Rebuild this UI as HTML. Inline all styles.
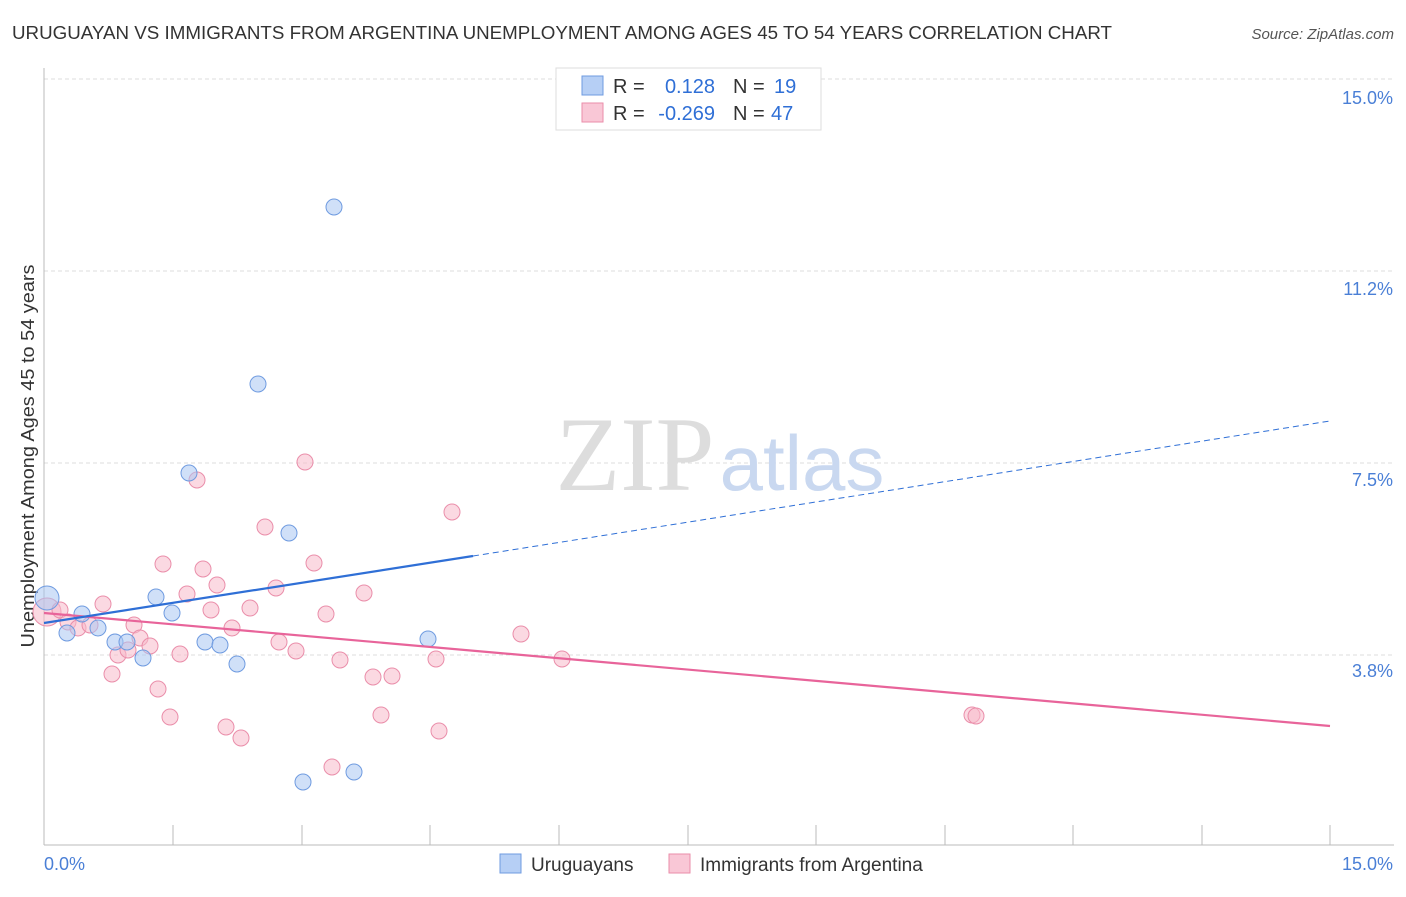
<!DOCTYPE html>
<html><head><meta charset="utf-8"><style>
body{margin:0;background:#fff;font-family:"Liberation Sans",sans-serif;}
</style></head><body>
<svg width="1406" height="892" xmlns="http://www.w3.org/2000/svg" font-family="Liberation Sans, sans-serif">
<text x="12" y="39" font-size="18" fill="#333" textLength="1100" lengthAdjust="spacingAndGlyphs">URUGUAYAN VS IMMIGRANTS FROM ARGENTINA UNEMPLOYMENT AMONG AGES 45 TO 54 YEARS CORRELATION CHART</text>
<text x="1394" y="39" font-size="15" fill="#555" text-anchor="end" font-style="italic">Source: ZipAtlas.com</text>
<g stroke="#ddd" stroke-dasharray="4,3">
<line x1="44" y1="79" x2="1394" y2="79"/><line x1="44" y1="271" x2="1394" y2="271"/>
<line x1="44" y1="463" x2="1394" y2="463"/><line x1="44" y1="655" x2="1394" y2="655"/>
</g>
<line x1="44" y1="68" x2="44" y2="845" stroke="#bbb"/>
<line x1="44" y1="845" x2="1394" y2="845" stroke="#bbb"/>
<g stroke="#bbb">
<line x1="173" y1="825" x2="173" y2="845"/><line x1="302" y1="825" x2="302" y2="845"/><line x1="430" y1="825" x2="430" y2="845"/><line x1="559" y1="825" x2="559" y2="845"/><line x1="688" y1="825" x2="688" y2="845"/><line x1="816" y1="825" x2="816" y2="845"/><line x1="945" y1="825" x2="945" y2="845"/><line x1="1073" y1="825" x2="1073" y2="845"/><line x1="1202" y1="825" x2="1202" y2="845"/><line x1="1330" y1="825" x2="1330" y2="845"/>
</g>
<g font-size="18" fill="#4a7fd6" text-anchor="end">
<text x="1393" y="104">15.0%</text><text x="1393" y="295">11.2%</text><text x="1393" y="486">7.5%</text><text x="1393" y="677">3.8%</text>
</g>
<text x="44" y="870" font-size="18" fill="#4a7fd6">0.0%</text>
<text x="1393" y="870" font-size="18" fill="#4a7fd6" text-anchor="end">15.0%</text>
<text transform="translate(34,456) rotate(-90)" font-size="18" fill="#333" text-anchor="middle" textLength="383" lengthAdjust="spacingAndGlyphs">Unemployment Among Ages 45 to 54 years</text>
<text x="635" y="490" font-size="106" fill="#ddd" font-family="Liberation Serif, serif" text-anchor="middle">ZIP</text>
<text x="802" y="490" font-size="78" fill="#c9d8f0" text-anchor="middle">atlas</text>
<g fill="#f7b9cb" fill-opacity="0.55" stroke="#ea8eaa" stroke-width="1">
<circle cx="47" cy="612" r="14"/>
<circle cx="60" cy="610" r="8"/><circle cx="68" cy="622" r="8"/><circle cx="78" cy="628" r="8"/><circle cx="90" cy="625" r="8"/><circle cx="103" cy="604" r="8"/><circle cx="112" cy="674" r="8"/><circle cx="118" cy="655" r="8"/><circle cx="128" cy="650" r="8"/><circle cx="134" cy="625" r="8"/><circle cx="140" cy="638" r="8"/><circle cx="150" cy="646" r="8"/><circle cx="158" cy="689" r="8"/><circle cx="163" cy="564" r="8"/><circle cx="170" cy="717" r="8"/><circle cx="180" cy="654" r="8"/><circle cx="187" cy="594" r="8"/><circle cx="197" cy="480" r="8"/><circle cx="203" cy="569" r="8"/><circle cx="211" cy="610" r="8"/><circle cx="217" cy="585" r="8"/><circle cx="226" cy="727" r="8"/><circle cx="232" cy="628" r="8"/><circle cx="241" cy="738" r="8"/><circle cx="250" cy="608" r="8"/><circle cx="265" cy="527" r="8"/><circle cx="276" cy="588" r="8"/><circle cx="279" cy="642" r="8"/><circle cx="296" cy="651" r="8"/><circle cx="305" cy="462" r="8"/><circle cx="314" cy="563" r="8"/><circle cx="326" cy="614" r="8"/><circle cx="332" cy="767" r="8"/><circle cx="340" cy="660" r="8"/><circle cx="364" cy="593" r="8"/><circle cx="373" cy="677" r="8"/><circle cx="381" cy="715" r="8"/><circle cx="392" cy="676" r="8"/><circle cx="436" cy="659" r="8"/><circle cx="439" cy="731" r="8"/><circle cx="452" cy="512" r="8"/><circle cx="521" cy="634" r="8"/><circle cx="562" cy="659" r="8"/><circle cx="972" cy="715" r="8"/><circle cx="976" cy="716" r="8"/>
</g>
<g fill="#a9c6f2" fill-opacity="0.55" stroke="#6f9be0" stroke-width="1">
<circle cx="47" cy="598" r="12"/>
<circle cx="67" cy="633" r="8"/><circle cx="82" cy="614" r="8"/><circle cx="98" cy="628" r="8"/><circle cx="115" cy="642" r="8"/><circle cx="127" cy="642" r="8"/><circle cx="143" cy="658" r="8"/><circle cx="156" cy="597" r="8"/><circle cx="172" cy="613" r="8"/><circle cx="189" cy="473" r="8"/><circle cx="205" cy="642" r="8"/><circle cx="220" cy="645" r="8"/><circle cx="237" cy="664" r="8"/><circle cx="258" cy="384" r="8"/><circle cx="289" cy="533" r="8"/><circle cx="303" cy="782" r="8"/><circle cx="334" cy="207" r="8"/><circle cx="354" cy="772" r="8"/><circle cx="428" cy="639" r="8"/>
</g>
<line x1="44" y1="613" x2="1330" y2="726" stroke="#e8649a" stroke-width="2.2"/>
<line x1="44" y1="623" x2="473" y2="556" stroke="#2f6fd6" stroke-width="2.2"/>
<line x1="473" y1="556" x2="1330" y2="421" stroke="#2f6fd6" stroke-width="1" stroke-dasharray="6,4"/>
<rect x="556" y="68" width="265" height="62" fill="#fff" stroke="#ddd"/>
<rect x="582" y="76" width="21" height="19" fill="#b6cff5" stroke="#6f9be0"/>
<rect x="582" y="103" width="21" height="19" fill="#f9c7d6" stroke="#ea8eaa"/>
<g font-size="20">
<text x="613" y="93" fill="#333">R =</text><text x="715" y="93" fill="#2f6fd6" text-anchor="end">0.128</text>
<text x="733" y="93" fill="#333">N =</text><text x="774" y="93" fill="#2f6fd6">19</text>
<text x="613" y="120" fill="#333">R =</text><text x="715" y="120" fill="#2f6fd6" text-anchor="end">-0.269</text>
<text x="733" y="120" fill="#333">N =</text><text x="771" y="120" fill="#2f6fd6">47</text>
</g>
<rect x="500" y="854" width="21" height="19" fill="#b6cff5" stroke="#6f9be0"/>
<text x="531" y="871" font-size="19" fill="#333">Uruguayans</text>
<rect x="669" y="854" width="21" height="19" fill="#f9c7d6" stroke="#ea8eaa"/>
<text x="700" y="871" font-size="19" fill="#333">Immigrants from Argentina</text>
</svg>
</body></html>
